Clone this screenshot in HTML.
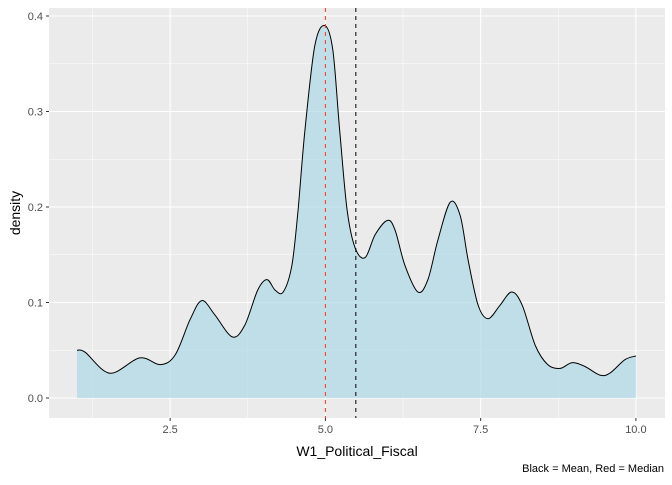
<!DOCTYPE html>
<html><head><meta charset="utf-8"><style>
body{margin:0;background:#fff;font-family:"Liberation Sans",sans-serif}
</style></head><body>
<svg width="672" height="480" xmlns="http://www.w3.org/2000/svg">
<rect x="49" y="8" width="616" height="410" fill="#EBEBEB"/>
<g id="grid"></g>
<path id="area" fill="#ADD8E6" fill-opacity="0.7"/>
<path id="line" fill="none" stroke="#000" stroke-width="1"/>
<line id="median" style="stroke:#FF3030" stroke-dasharray="4,4" stroke-width="1"/>
<line id="mean" stroke="#000" stroke-dasharray="4,4" stroke-width="1"/>
<g id="ticks" font-size="11" fill="#4D4D4D"></g>
<text x="357" y="456" text-anchor="middle" font-size="14" fill="#000">W1_Political_Fiscal</text>
<text transform="translate(20,213) rotate(-90)" text-anchor="middle" font-size="14" fill="#000">density</text>
<text x="664" y="472" text-anchor="end" font-size="11" fill="#000">Black = Mean, Red = Median</text>
</svg>
<script>
const xs=[1.0,1.13,1.53,2.01,2.34,2.58,2.82,3.01,3.22,3.5,3.7,3.91,4.06,4.19,4.32,4.46,4.56,4.67,4.83,4.99,5.12,5.23,5.35,5.48,5.64,5.8,6.0,6.12,6.28,6.49,6.65,6.81,7.01,7.17,7.3,7.46,7.62,7.81,8.0,8.17,8.38,8.58,8.78,8.97,9.18,9.42,9.58,9.82,10.0];
const ys=[0.050,0.048,0.026,0.042,0.035,0.045,0.082,0.102,0.087,0.064,0.076,0.113,0.124,0.113,0.111,0.139,0.197,0.28,0.369,0.39,0.364,0.28,0.197,0.157,0.147,0.171,0.186,0.176,0.139,0.111,0.124,0.165,0.205,0.191,0.144,0.097,0.083,0.097,0.111,0.097,0.055,0.035,0.031,0.037,0.033,0.024,0.026,0.040,0.044];
const xTicks=[2.5,5.0,7.5,10.0];
const yTicks=[0.0,0.1,0.2,0.3,0.4];
const meanVal=5.49, medianVal=5.0;
const sx=v=>77+(v-1)*62.1, sy=v=>398-v*955;
const NS="http://www.w3.org/2000/svg";
const grid=document.getElementById('grid'),ticks=document.getElementById('ticks');
function ln(p,x1,y1,x2,y2,c,w,name){const l=document.createElementNS(NS,'line');l.setAttribute('x1',x1);l.setAttribute('y1',y1);l.setAttribute('x2',x2);l.setAttribute('y2',y2);l.setAttribute('stroke',c);l.setAttribute('stroke-width',w);


p.appendChild(l);}
function tx(x,y,s,a,name){const t=document.createElementNS(NS,'text');t.setAttribute('x',x);t.setAttribute('y',y);t.setAttribute('text-anchor',a);t.textContent=s;


ticks.appendChild(t);}
for(let i=0;i<yTicks.length;i++){const y=sy(yTicks[i]);ln(grid,49,y,665,y,'#fff',1.1,'y-gridline');
if(i<yTicks.length-1)ln(grid,49,sy(yTicks[i]+0.05),665,sy(yTicks[i]+0.05),'#fff',0.5,'y-minor-gridline');
ln(ticks,46,y,49,y,'#333',1,'y-tick');tx(43,y+4,yTicks[i].toFixed(1),'end','y-tick-label');}
ln(grid,49,sy(0.45),665,sy(0.45),'#fff',0.5,'y-minor-gridline');
for(let i=0;i<xTicks.length;i++){const x=sx(xTicks[i]);ln(grid,x,8,x,418,'#fff',1.1,'x-gridline');
ln(grid,sx(xTicks[i]-1.25),8,sx(xTicks[i]-1.25),418,'#fff',0.5,'x-minor-gridline');
ln(ticks,x,418,x,421,'#333',1,'x-tick');tx(x,433,xTicks[i].toFixed(1),'middle','x-tick-label');}
const P=xs.map((x,i)=>[sx(x),sy(ys[i])]);
let d='M'+P[0][0].toFixed(1)+','+P[0][1].toFixed(1);
for(let i=0;i<P.length-1;i++){const p0=P[Math.max(0,i-1)],p1=P[i],p2=P[i+1],p3=P[Math.min(P.length-1,i+2)];
const c1=[p1[0]+(p2[0]-p0[0])/6,p1[1]+(p2[1]-p0[1])/6],c2=[p2[0]-(p3[0]-p1[0])/6,p2[1]-(p3[1]-p1[1])/6];
d+='C'+c1.map(v=>v.toFixed(1))+' '+c2.map(v=>v.toFixed(1))+' '+p2.map(v=>v.toFixed(1));}
document.getElementById('line').setAttribute('d',d);
document.getElementById('area').setAttribute('d',d+'L'+sx(xs[xs.length-1])+','+sy(0)+'L'+sx(xs[0])+','+sy(0)+'Z');
const m=document.getElementById('mean');m.setAttribute('x1',sx(meanVal));m.setAttribute('x2',sx(meanVal));m.setAttribute('y1',8);m.setAttribute('y2',418);
const md=document.getElementById('median');md.setAttribute('x1',sx(medianVal));md.setAttribute('x2',sx(medianVal));md.setAttribute('y1',8);md.setAttribute('y2',418);
</script>
</body></html>
